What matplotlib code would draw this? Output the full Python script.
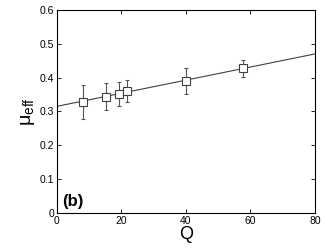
import matplotlib
matplotlib.use("Agg")
import matplotlib.pyplot as plt
import numpy as np

# donnees
Q = [8, 15.3, 19.4, 21.8, 39.9, 57.7]
mu = [0.3275, 0.344, 0.351, 0.360, 0.3895, 0.427]
err_haut = [0.052, 0.040, 0.037, 0.032, 0.038, 0.025]
err_bas = [0.051, 0.040, 0.034, 0.033, 0.038, 0.026]

# droite d'ajustement
fit_x = [0, 80]
fit_y = [0.315, 0.470]

plt.rcParams['font.family'] = ['Liberation Sans', 'DejaVu Sans']

fig = plt.figure(figsize=(3.25, 2.49), dpi=100)
ax = fig.add_axes([0.175, 0.145, 0.794, 0.815])

ax.plot(fit_x, fit_y, color='#404040', lw=0.8)
ax.errorbar(Q, mu, yerr=[err_bas, err_haut], fmt='s', ms=5.5, mfc='white',
            mec='#404040', mew=0.8, ecolor='#555555', elinewidth=0.8,
            capsize=1.5, capthick=0.8)

ax.set_xlim(0, 80)
ax.set_ylim(0, 0.6)
ax.set_xticks([0, 20, 40, 60, 80])
ax.set_yticks([0, 0.1, 0.2, 0.3, 0.4, 0.5, 0.6])
ax.set_yticklabels(['0', '0.1', '0.2', '0.3', '0.4', '0.5', '0.6'])
ax.tick_params(direction='in', top=True, right=True, labelsize=7.5,
               length=3, width=0.6, pad=2)
for s in ax.spines.values():
    s.set_linewidth(0.8)

ax.set_xlabel('Q', fontsize=13, labelpad=0)
ax.set_ylabel(r'$\mathregular{\mu_{eff}}$', fontsize=14, labelpad=2)
ax.text(0.022, 0.035, '(b)', transform=ax.transAxes, fontsize=12,
        fontweight='bold')

fig.savefig('out.png', dpi=100)
